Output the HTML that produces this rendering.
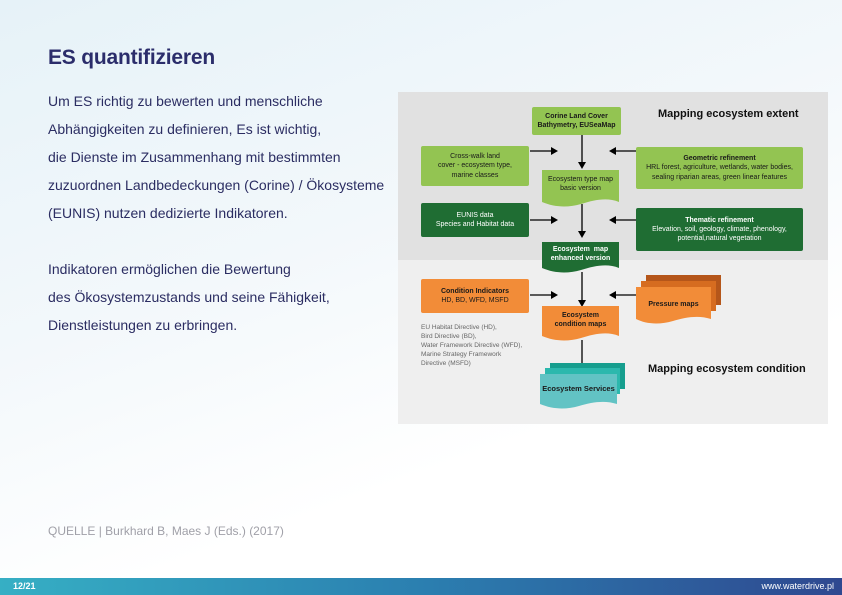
<!DOCTYPE html>
<html><head><meta charset="utf-8"><style>
*{margin:0;padding:0;box-sizing:border-box}
body{width:842px;height:595px;position:relative;overflow:hidden;font-family:"Liberation Sans",sans-serif;background:linear-gradient(160deg,#e6f2f8 0%,#f3f8fb 40%,#ffffff 70%)}
.t{position:absolute;white-space:nowrap}
.body{left:48px;font-size:14px;color:#2b2d62}
.b{position:absolute;display:flex;align-items:center;justify-content:center;text-align:center;font-size:7px;line-height:1.3;font-weight:bold;color:#1a1a1a}
.lg{background:#93c452;border-radius:2px}
.dg{background:#1f6d33;color:#fff;border-radius:2px}
.or{background:#f28c38;border-radius:2px}
</style></head><body>
<div class="t" style="left:48px;top:46px;font-size:21px;font-weight:bold;color:#2b2d6b;letter-spacing:-0.2px">ES quantifizieren</div>
<div class="t body" style="top:93px">Um ES richtig zu bewerten und menschliche</div>
<div class="t body" style="top:121px">Abhängigkeiten zu definieren, Es ist wichtig,</div>
<div class="t body" style="top:149px">die Dienste im Zusammenhang mit bestimmten</div>
<div class="t body" style="top:177px">zuzuordnen Landbedeckungen (Corine) / Ökosysteme</div>
<div class="t body" style="top:205px">(EUNIS) nutzen dedizierte Indikatoren.</div>
<div class="t body" style="top:261px">Indikatoren ermöglichen die Bewertung</div>
<div class="t body" style="top:289px">des Ökosystemzustands und seine Fähigkeit,</div>
<div class="t body" style="top:317px">Dienstleistungen zu erbringen.</div>
<div class="t" style="left:48px;top:524px;font-size:12px;color:#a0a0a8">QUELLE | Burkhard B, Maes J (Eds.) (2017)</div>

<div style="position:absolute;left:398px;top:92px;width:430px;height:168px;background:#e1e1e1"></div>
<div style="position:absolute;left:398px;top:260px;width:430px;height:164px;background:#efefef"></div>

<svg style="position:absolute;left:0;top:0" width="842" height="595">
<g stroke="#000" stroke-width="1.3" fill="none">
<line x1="582" y1="135" x2="582" y2="162"/>
<line x1="582" y1="204" x2="582" y2="231"/>
<line x1="582" y1="272" x2="582" y2="300"/>
<line x1="582" y1="340" x2="582" y2="364"/>
<line x1="530" y1="151" x2="552" y2="151"/>
<line x1="636" y1="151" x2="614" y2="151"/>
<line x1="530" y1="220" x2="552" y2="220"/>
<line x1="636" y1="220" x2="614" y2="220"/>
<line x1="530" y1="295" x2="552" y2="295"/>
<line x1="636" y1="295" x2="614" y2="295"/>
</g>
<g fill="#000">
<path d="M578,162h8l-4,7z"/><path d="M578,231h8l-4,7z"/><path d="M578,300h8l-4,7z"/><path d="M578,364h8l-4,7z"/>
<path d="M551,147v8l7,-4z"/><path d="M551,216v8l7,-4z"/><path d="M551,291v8l7,-4z"/>
<path d="M616,147v8l-7,-4z"/><path d="M616,216v8l-7,-4z"/><path d="M616,291v8l-7,-4z"/>
</g>
<path d="M542,170h77v32c-12,-5 -25,-2 -38,2c-14,4 -27,3 -39,-2z" fill="#93c452"/>
<path d="M542,242h77v26c-12,-5 -25,-2 -38,2c-14,4 -27,3 -39,-2z" fill="#1f6d33"/>
<path d="M542,306h77v30c-12,-5 -25,-2 -38,2c-14,4 -27,3 -39,-2z" fill="#f28c38"/>
<path d="M646,275h75v30h-75z" fill="#b5561a"/>
<path d="M641,281h75v30h-75z" fill="#d66c20"/>
<path d="M636,287h75v32c-12,-4 -25,-2 -38,2c-14,4 -27,3 -37,-2z" fill="#f28c38"/>
<path d="M550,363h75v26h-75z" fill="#169e8e"/>
<path d="M545,368h75v26h-75z" fill="#2cb8ad"/>
<path d="M540,374h77v30c-12,-4 -25,-2 -38,2c-14,4 -27,3 -39,-2z" fill="#62c3c4"/>
</svg>

<div class="b lg" style="left:532px;top:107px;width:89px;height:28px">Corine Land Cover<br>Bathymetry, EUSeaMap</div>
<div class="b lg" style="left:421px;top:146px;width:108px;height:40px;font-weight:normal">Cross-walk land<br>cover - ecosystem type,<br>marine classes</div>
<div class="b lg" style="left:636px;top:147px;width:167px;height:42px;font-weight:normal"><div><b>Geometric refinement</b><br>HRL forest, agriculture, wetlands, water bodies,<br>sealing riparian areas, green linear features</div></div>
<div class="b" style="left:542px;top:170px;width:77px;height:28px;font-weight:normal">Ecosystem type map<br>basic version</div>
<div class="b dg" style="left:421px;top:203px;width:108px;height:34px;font-weight:normal">EUNIS data<br>Species and Habitat data</div>
<div class="b dg" style="left:636px;top:208px;width:167px;height:43px;font-weight:normal"><div><b>Thematic refinement</b><br>Elevation, soil, geology, climate, phenology,<br>potential,natural vegetation</div></div>
<div class="b" style="left:542px;top:242px;width:77px;height:24px;color:#fff">Ecosystem &nbsp;map<br>enhanced version</div>
<div class="b or" style="left:421px;top:279px;width:108px;height:34px"><div>Condition Indicators<br><span style="font-weight:normal">HD, BD, WFD, MSFD</span></div></div>
<div class="b" style="left:542px;top:306px;width:77px;height:28px">Ecosystem<br>condition maps</div>
<div class="b" style="left:636px;top:290px;width:75px;height:30px">Pressure maps</div>
<div class="b" style="left:540px;top:378px;width:77px;height:22px;font-size:7.5px">Ecosystem Services</div>
<div class="t" style="left:421px;top:323px;font-size:6.5px;line-height:9px;color:#666">EU Habitat Directive (HD),<br>Bird Directive (BD),<br>Water Framework Directive (WFD),<br>Marine Strategy Framework<br>Directive (MSFD)</div>
<div class="t" style="left:658px;top:108px;font-size:11px;font-weight:bold;color:#111">Mapping ecosystem extent</div>
<div class="t" style="left:648px;top:363px;font-size:11px;font-weight:bold;color:#111">Mapping ecosystem condition</div>

<div style="position:absolute;left:0;top:578px;width:842px;height:17px;background:linear-gradient(90deg,#36afc4,#2b7fb0 50%,#2f4890)"></div>
<div class="t" style="left:13px;top:581px;font-size:9px;font-weight:bold;color:#fff">12/21</div>
<div class="t" style="right:8px;top:581px;font-size:9px;color:#fff">www.waterdrive.pl</div>
</body></html>
